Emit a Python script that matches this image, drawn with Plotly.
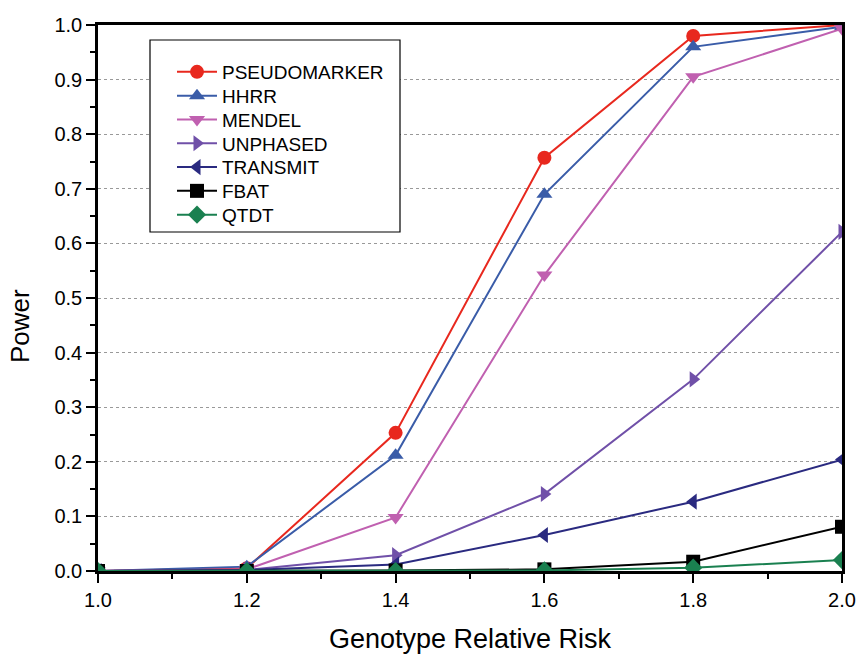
import plotly.graph_objects as go

grr = [1.0, 1.2, 1.4, 1.6, 1.8, 2.0]
pseudomarker = [0.0, 0.005, 0.253, 0.757, 0.980, 1.000]
hhrr = [0.0, 0.008, 0.212, 0.690, 0.960, 0.997]
mendel = [0.0, 0.003, 0.098, 0.542, 0.905, 0.993]
unphased = [0.0, 0.002, 0.029, 0.141, 0.351, 0.621]
transmit = [0.0, 0.002, 0.012, 0.066, 0.127, 0.204]
fbat = [0.0, 0.0, 0.001, 0.003, 0.017, 0.081]
qtdt = [0.0, 0.0, 0.0, 0.001, 0.006, 0.020]

series = [
    ("PSEUDOMARKER", pseudomarker, "#e8281e", "circle"),
    ("HHRR", hhrr, "#3a5ca8", "triangle-up"),
    ("MENDEL", mendel, "#c060b0", "triangle-down"),
    ("UNPHASED", unphased, "#7050a8", "triangle-right"),
    ("TRANSMIT", transmit, "#2a2a80", "triangle-left"),
    ("FBAT", fbat, "#000000", "square"),
    ("QTDT", qtdt, "#1a8050", "diamond"),
]

# plot area in pixels: x 98..842, y 25..571
def px_x(p):
    return (p - 98) / 744.0

def px_y(p):
    return (571 - p) / 546.0

fig = go.Figure()
legend_layout = {}
row0, row_step = 72, 23.8
for i, (name, vals, color, sym) in enumerate(series):
    lname = "legend" if i == 0 else f"legend{i + 1}"
    fig.add_trace(go.Scatter(
        x=grr, y=vals, name=name, mode="lines+markers",
        line=dict(color=color, width=2),
        marker=dict(symbol=sym, size=14, color=color),
        legend=lname,
    ))
    legend_layout[lname] = dict(
        x=px_x(172), y=px_y(row0 + i * row_step), xanchor="left", yanchor="middle",
        borderwidth=0, bgcolor="rgba(0,0,0,0)", font=dict(size=19),
        itemwidth=40,
    )

fig.add_shape(type="rect", xref="paper", yref="paper",
              x0=px_x(150), x1=px_x(400), y0=px_y(232), y1=px_y(40),
              line=dict(color="black", width=1.2), fillcolor="white", layer="above")

fig.add_annotation(text="Power", xref="paper", yref="paper",
                   x=px_x(20), y=px_y(326), textangle=-90, showarrow=False,
                   font=dict(size=26), xanchor="center", yanchor="middle")

fig.update_layout(
    width=859, height=655,
    margin=dict(l=98, r=17, t=25, b=84),
    paper_bgcolor="white", plot_bgcolor="white",
    font=dict(family="Arial, Liberation Sans, sans-serif", color="black", size=20),
    showlegend=True,
    xaxis=dict(
        range=[1.0, 2.0], tickvals=[1.0, 1.2, 1.4, 1.6, 1.8, 2.0],
        ticktext=["1.0", "1.2", "1.4", "1.6", "1.8", "2.0"],
        tickfont=dict(size=20),
        ticks="outside", ticklen=9, tickwidth=2, tickcolor="black",
        minor=dict(ticks="outside", dtick=0.1, tick0=1.0, ticklen=5, tickwidth=2, tickcolor="black"),
        showline=True, linecolor="black", linewidth=2.5, mirror=True,
        showgrid=False, zeroline=False, automargin=False,
        title=dict(text="Genotype Relative Risk", font=dict(size=27), standoff=20),
    ),
    yaxis=dict(
        range=[0, 1.0], dtick=0.1, tick0=0, tickformat=".1f",
        tickfont=dict(size=20),
        ticks="outside", ticklen=9, tickwidth=2, tickcolor="black",
        minor=dict(ticks="outside", dtick=0.05, tick0=0, ticklen=5, tickwidth=2, tickcolor="black"),
        showline=True, linecolor="black", linewidth=2.5, mirror=True,
        showgrid=True, gridcolor="#999999", griddash="dot", gridwidth=1,
        zeroline=False, automargin=False,
    ),
    **legend_layout,
)

fig.write_html("out.html")
